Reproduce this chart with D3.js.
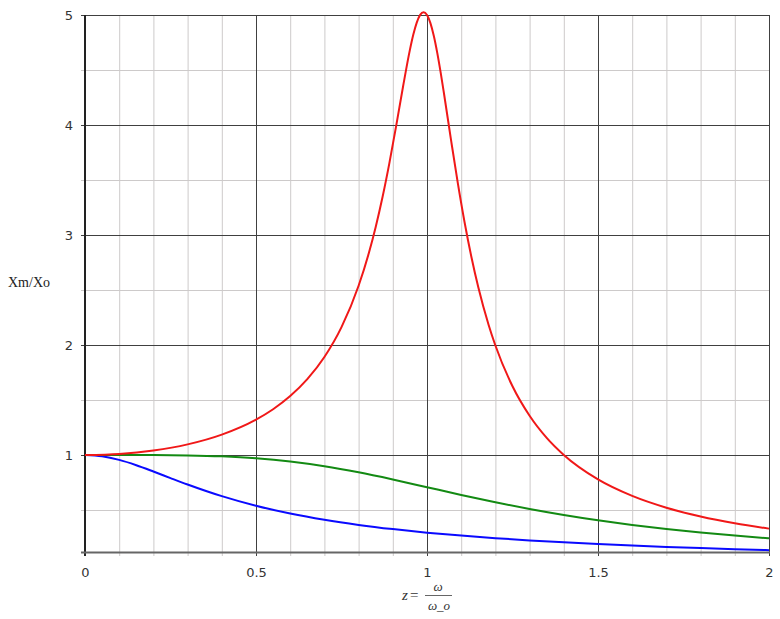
<!DOCTYPE html>
<html><head><meta charset="utf-8">
<script src="https://cdn.jsdelivr.net/npm/d3@7"></script>
<style>
body{margin:0;background:#fff;}
svg{display:block;}
.tick text{font-family:"DejaVu Sans",Verdana,sans-serif;font-size:13px;fill:#333;}
</style>
</head><body>
<svg id="c" width="780" height="619"></svg>
<script>
// Data
const redZ = [0,0.1,0.2,0.3,0.4,0.5,0.55,0.6,0.65,0.7,0.75,0.8,0.83,0.85,0.87,0.89,0.91,0.93,0.95,0.96,0.97,0.98,0.99,1.0,1.01,1.02,1.03,1.04,1.05,1.07,1.09,1.11,1.13,1.15,1.18,1.2,1.25,1.3,1.35,1.4,1.5,1.6,1.7,1.8,1.9,2.0];
const redY = [1,1.0099,1.0408,1.0965,1.1851,1.3216,1.4162,1.5357,1.6893,1.8908,2.1622,2.5384,2.8359,3.0729,3.3450,3.6538,3.9944,4.3499,4.6826,4.8218,4.9310,5.0010,5.0252,5.0,4.9261,4.8086,4.6552,4.4756,4.2794,3.8694,3.4730,3.1135,2.7978,2.5245,2.1839,1.9952,1.6245,1.3562,1.1551,1.0,0.7779,0.6279,0.5207,0.4408,0.3791,0.3304];
const greenZ = [0,0.1,0.2,0.3,0.4,0.5,0.6,0.7,0.8,0.9,1.0,1.1,1.2,1.3,1.4,1.5,1.6,1.7,1.8,1.9,2.0];
const greenY = [1,1.0,0.9992,0.9960,0.9874,0.9701,0.9409,0.8980,0.8423,0.7771,0.7071,0.6370,0.5704,0.5092,0.4545,0.4061,0.3639,0.3270,0.2949,0.2670,0.2425];
const blueZ = [0,0.05,0.1,0.15,0.2,0.25,0.3,0.4,0.5,0.6,0.7,0.8,0.9,1.0,1.1,1.2,1.3,1.4,1.5,1.6,1.7,1.8,1.9,2.0];
const blueY = [1,0.9883,0.9553,0.9070,0.8501,0.7902,0.7316,0.6256,0.5382,0.4677,0.4108,0.3645,0.3262,0.2941,0.2670,0.2437,0.2235,0.2059,0.1904,0.1767,0.1644,0.1534,0.1435,0.1345];
const xTicks = [0,0.5,1,1.5,2];
const xTickLabels = ["0","0.5","1","1.5","2"];
const xMinor = [0.1,0.2,0.3,0.4,0.6,0.7,0.8,0.9,1.1,1.2,1.3,1.4,1.6,1.7,1.8,1.9];
const yTicks = [1,2,3,4,5];
const yTickLabels = ["1","2","3","4","5"];
const yMinor = [0.5,1.5,2.5,3.5,4.5];
const xDomain = [0,2];
const yDomain = [0.118,5];

const svg = d3.select("#c");
const L=85,R=769,T=15,B=552;
const x = d3.scaleLinear().domain(xDomain).range([L,R]);
const y = d3.scaleLinear().domain(yDomain).range([B,T]);

// minor grid
const g = svg.append("g");
g.selectAll(".vmin").data(xMinor).join("line")
  .attr("x1",d=>x(d)+0.5).attr("x2",d=>x(d)+0.5).attr("y1",T).attr("y2",B+4)
  .attr("stroke","#cdcaca").attr("stroke-width",1);
g.selectAll(".hmin").data(yMinor).join("line")
  .attr("y1",d=>Math.round(y(d))+0.5).attr("y2",d=>Math.round(y(d))+0.5).attr("x1",L-4).attr("x2",R)
  .attr("stroke","#cdcaca").attr("stroke-width",1);
// major grid
g.selectAll(".vmaj").data(xTicks).join("line")
  .attr("x1",d=>Math.round(x(d))+0.5).attr("x2",d=>Math.round(x(d))+0.5).attr("y1",T).attr("y2",B+4)
  .attr("stroke","#404040").attr("stroke-width",1);
g.selectAll(".hmaj").data(yTicks).join("line")
  .attr("y1",d=>Math.round(y(d))+0.5).attr("y2",d=>Math.round(y(d))+0.5).attr("x1",L-4).attr("x2",R)
  .attr("stroke","#404040").attr("stroke-width",1);
// axis lines
svg.append("line").attr("x1",L).attr("x2",L).attr("y1",T).attr("y2",B+4).attr("stroke","#222").attr("stroke-width",2);
svg.append("line").attr("x1",L-4).attr("x2",R+1).attr("y1",B+0.5).attr("y2",B+0.5).attr("stroke","#666").attr("stroke-width",2);

// axes labels via d3 axes
const xa = d3.axisBottom(x).tickValues(xTicks).tickFormat((d,i)=>xTickLabels[i]).tickSize(0).tickPadding(16);
svg.append("g").attr("transform",`translate(0,${B})`).call(xa).call(s=>s.select(".domain").remove());
const ya = d3.axisLeft(y).tickValues(yTicks).tickFormat((d,i)=>yTickLabels[i]).tickSize(0).tickPadding(12);
svg.append("g").attr("transform",`translate(${L},0)`).call(ya).call(s=>s.select(".domain").remove());

// curves
const line = d3.line().x(d=>x(d[0])).y(d=>y(d[1])).curve(d3.curveMonotoneX);
const series = [
  {z:blueZ, v:blueY, c:"#0a0aff"},
  {z:greenZ, v:greenY, c:"#138a13"},
  {z:redZ, v:redY, c:"#f01818"}
];
series.forEach(s=>{
  svg.append("path").datum(s.z.map((z,i)=>[z,s.v[i]]))
    .attr("d",line).attr("fill","none").attr("stroke",s.c).attr("stroke-width",2);
});

// y label
svg.append("text").attr("x",8).attr("y",287).text("Xm/Xo")
  .attr("font-family","'Liberation Serif','Times New Roman',serif").attr("font-size",14).attr("fill","#222");
// x label
const xl = svg.append("g").attr("font-family","'Liberation Serif','Times New Roman',serif").attr("font-style","italic").attr("fill","#333");
xl.append("text").attr("x",402).attr("y",600).attr("font-size",15).text("z");
xl.append("text").attr("x",410).attr("y",600).attr("font-size",15).attr("font-style","normal").text("=");
xl.append("text").attr("x",438).attr("y",591).attr("font-size",13).attr("text-anchor","middle").text("ω");
xl.append("line").attr("x1",425).attr("x2",452).attr("y1",595.5).attr("y2",595.5).attr("stroke","#666").attr("stroke-width",1);
xl.append("text").attr("x",439).attr("y",610).attr("font-size",13).attr("text-anchor","middle").text("ω_o");
</script>
</body></html>
